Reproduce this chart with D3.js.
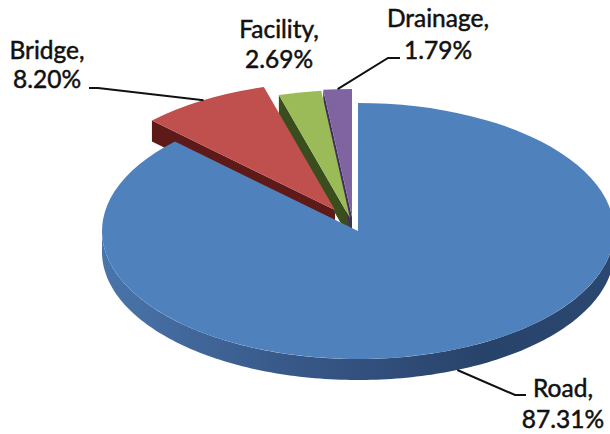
<!DOCTYPE html>
<html>
<head>
<meta charset="utf-8">
<script src="https://cdn.jsdelivr.net/npm/d3@7"></script>
<style>
  html, body { margin: 0; padding: 0; background: #fff; }
  svg { display: block; }
  text { font-family: Lato, "Open Sans", sans-serif; font-size: 24.5px; fill: #111; stroke: #111; stroke-width: 0.5px; text-anchor: middle; }
</style>
</head>
<body>
<div id="container"></div>
<script>
/* DATA */
const categories = ["Road", "Bridge", "Facility", "Drainage"];
const percents = [87.31, 8.20, 2.69, 1.79];

/* CONSTANTS */
const width = 610,
  height = 434,
  cx = 358,
  cy = 231,
  radius = 256,
  tilt = 0.5,   // ellipse ratio of the 3d view
  depth = 21;

const faceColors = ["#4f81bd", "#c0504d", "#9bbb59", "#8064a2"];
const wallColors = ["#2f4d76", "#5e1a18", "#3a4d1d", "#40305a"];

// how far each slice is pulled out, in px on screen
const offsets = [[0, 0], [-23, -21], [-8, -13], [-6, -14]];

// label centre and two baselines, leader elbow points (null = no leader)
const labels = [
  { x: 563, y: [397, 428], elbow: [[515, 395], [526, 395]] },
  { x: 47, y: [59, 88], elbow: [[98, 88], [89, 88]] },
  { x: 279, y: [38, 68], elbow: null },
  { x: 438, y: [27, 59], elbow: [[388, 58], [400, 58]] }
];

/* LAYOUT */
const pie = d3.pie().sort(null).value(d => d);
const slices = pie(percents);

const arc = d3.arc().innerRadius(0).outerRadius(radius);

// point on the tilted pie, angle clockwise from 12 o'clock
const px = (i, a, r = radius) => cx + offsets[i][0] + Math.sin(a) * r;
const py = (i, a, r = radius) => cy + offsets[i][1] - Math.cos(a) * r * tilt;

const svg = d3.select("#container")
  .append("svg")
  .attr("width", width)
  .attr("height", height);

const grad = svg.append("defs").append("linearGradient")
  .attr("id", "roadWall");
grad.append("stop").attr("offset", "0%").attr("stop-color", "#4a75aa");
grad.append("stop").attr("offset", "35%").attr("stop-color", "#38598a");
grad.append("stop").attr("offset", "75%").attr("stop-color", "#28436a");
grad.append("stop").attr("offset", "100%").attr("stop-color", "#2b4872");

/* SMALL SLICES - cut walls first, blue goes on top of them */
[1, 2, 3].forEach(i => {
  const s = slices[i];
  const ax = px(i, 0, 0), ay = py(i, 0, 0);
  const ox = px(i, s.startAngle), oy = py(i, s.startAngle);
  svg.append("path")
    .attr("d", d3.line()([[ox, oy], [ax, ay], [ax, ay + depth], [ox, oy + depth]]))
    .attr("fill", wallColors[i]);
});

/* ROAD OUTER WALL */
const wallAngles = d3.range(Math.PI / 2, Math.PI * 1.5 + 0.001, 0.02);
const wallTop = wallAngles.map(a => [px(0, a), py(0, a)]);
const wallBottom = wallAngles.map(a => [px(0, a), py(0, a) + depth]).reverse();
svg.append("path")
  .attr("d", d3.line()(wallTop.concat(wallBottom)) + "Z")
  .attr("fill", "url(#roadWall)");

/* TOP FACES */
svg.selectAll("path.face")
  .data(slices)
  .join("path")
  .attr("class", "face")
  .attr("transform", (d, i) => `translate(${cx + offsets[i][0]},${cy + offsets[i][1]}) scale(1,${tilt})`)
  .attr("d", arc)
  .attr("fill", (d, i) => faceColors[i]);

/* LEADERS */
slices.forEach((s, i) => {
  if (!labels[i].elbow) return;
  const mid = (s.startAngle + s.endAngle) / 2;
  const start = [px(i, mid), py(i, mid) + (i === 0 ? depth : 0)];
  svg.append("path")
    .attr("d", d3.line()([start, ...labels[i].elbow]))
    .attr("fill", "none")
    .attr("stroke", "#111")
    .attr("stroke-width", 2);
});

/* LABELS */
categories.forEach((c, i) => {
  const t = svg.append("text").attr("x", labels[i].x);
  t.append("tspan").attr("x", labels[i].x).attr("y", labels[i].y[0]).text(c + ",");
  t.append("tspan").attr("x", labels[i].x).attr("y", labels[i].y[1]).text(percents[i].toFixed(2) + "%");
});
</script>
</body>
</html>
